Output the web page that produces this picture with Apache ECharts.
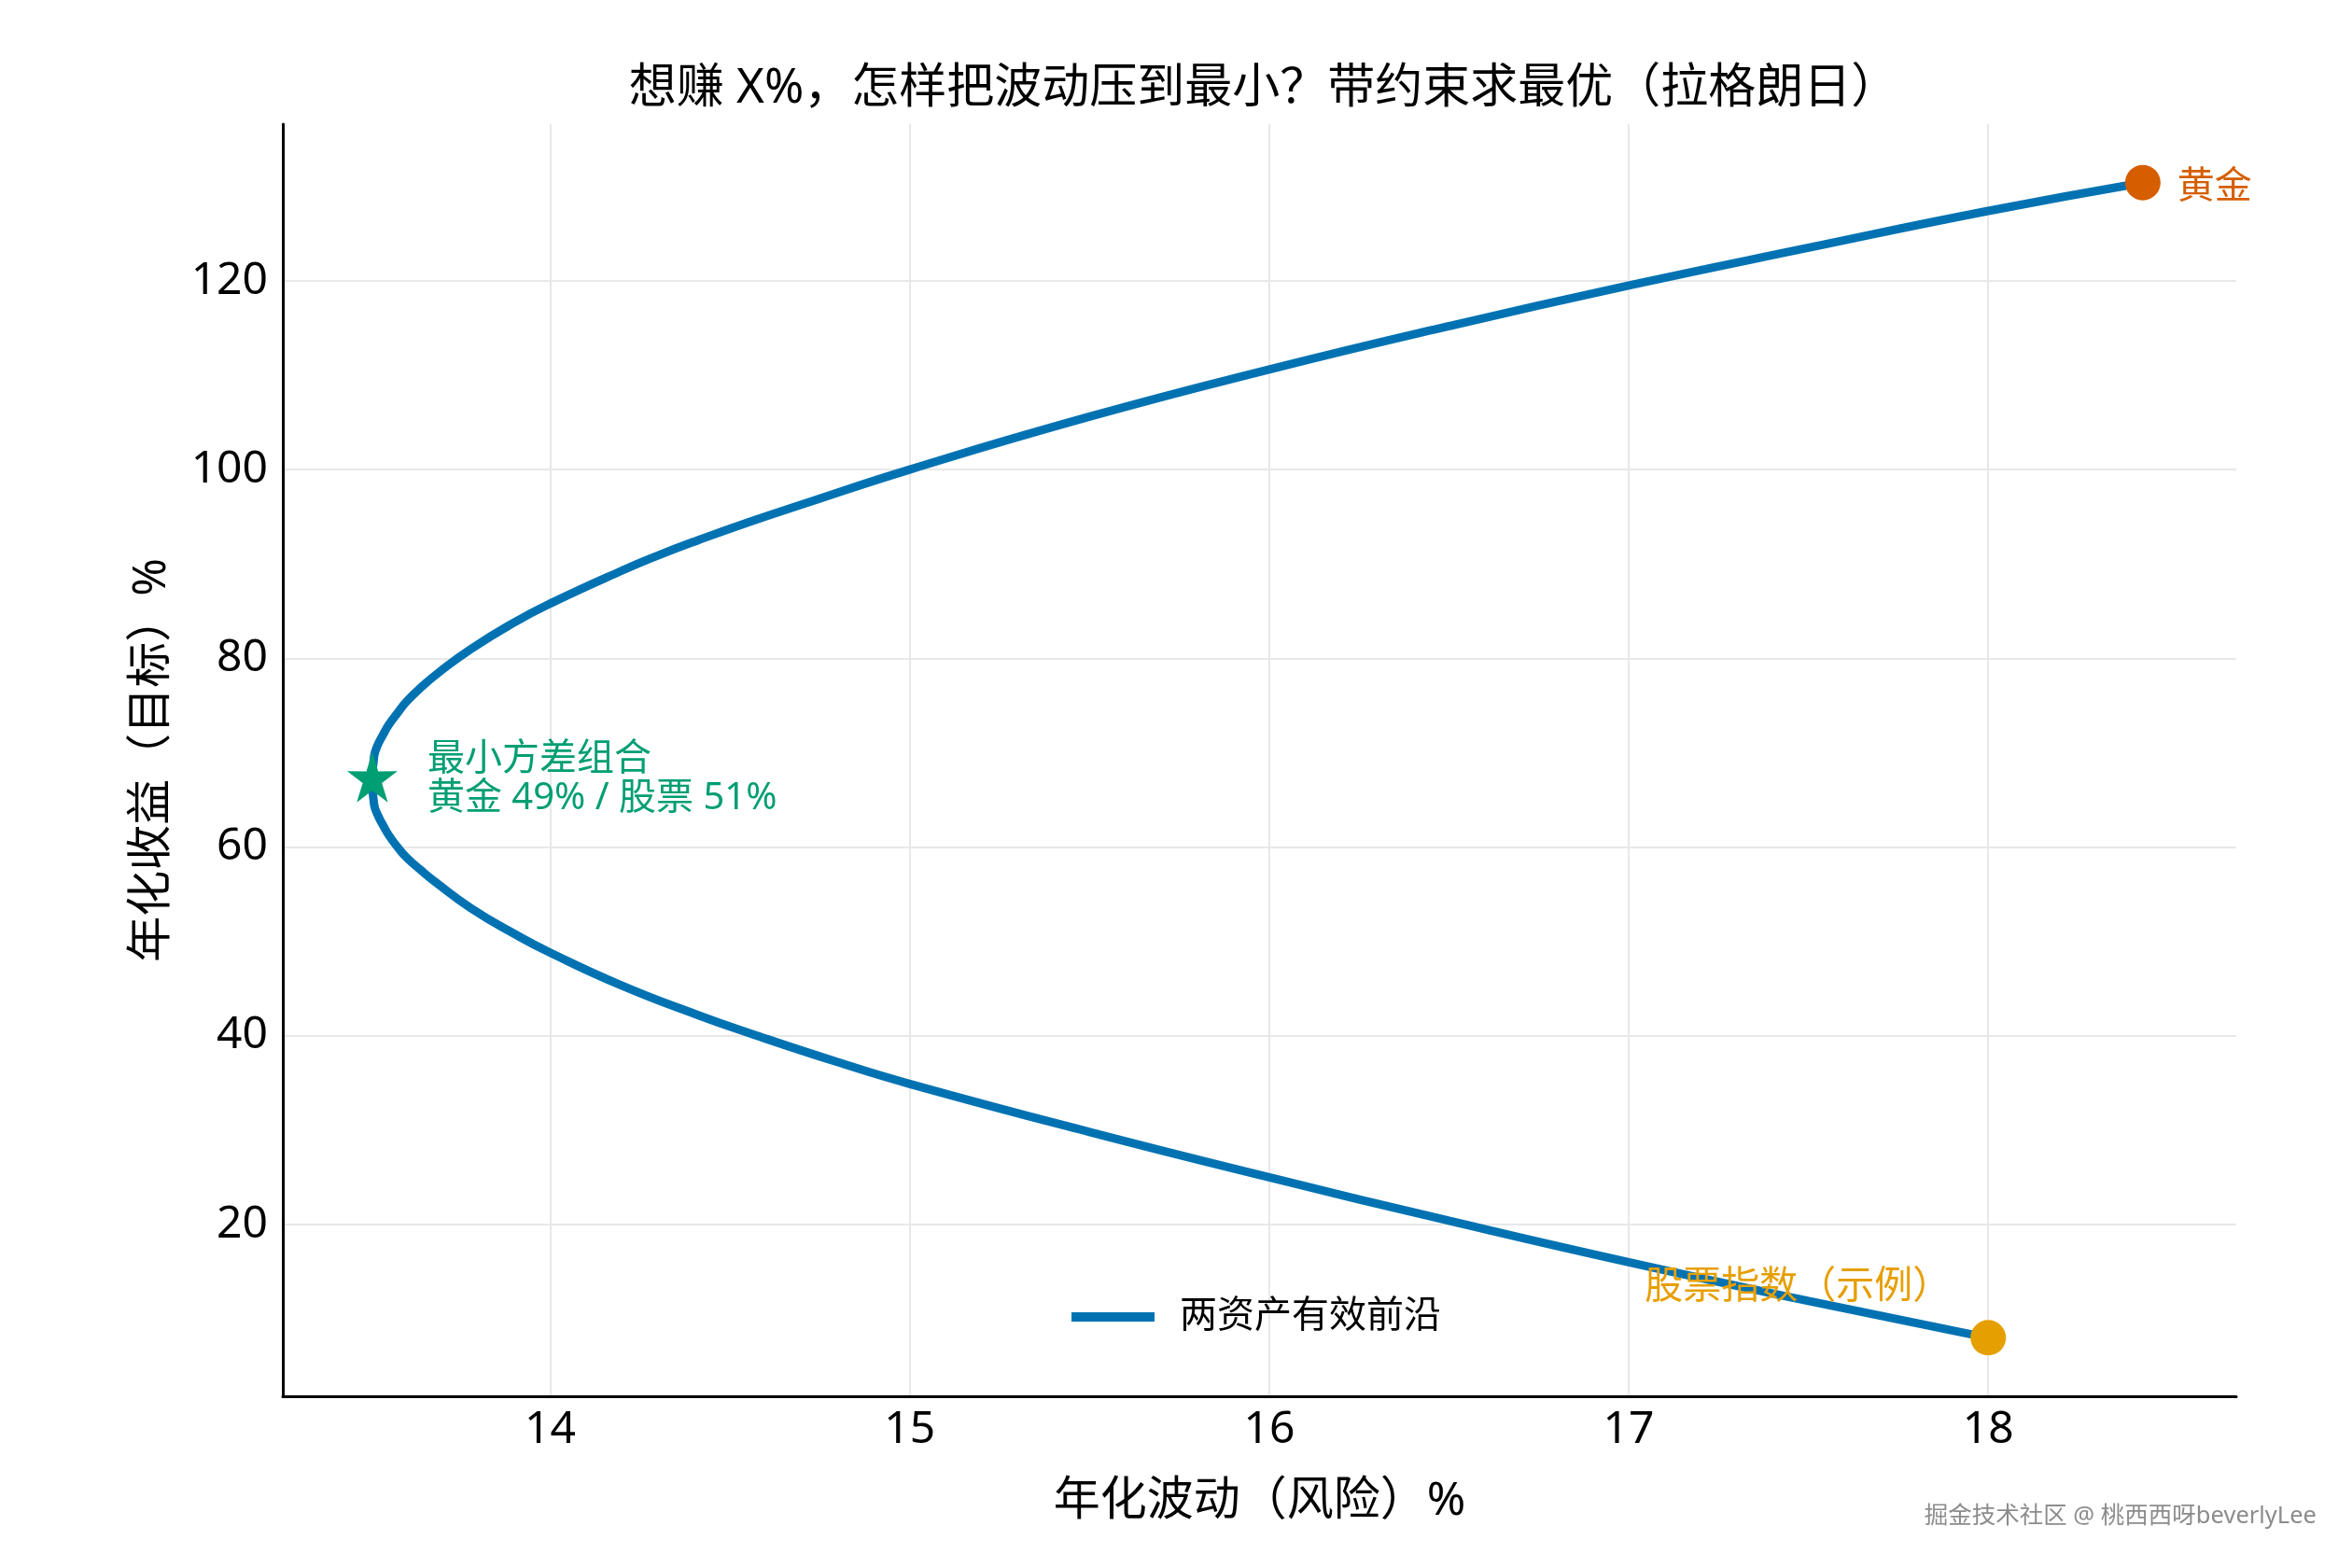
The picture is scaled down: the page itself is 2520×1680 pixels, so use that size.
<!DOCTYPE html>
<html>
<head>
<meta charset="utf-8">
<title>两资产有效前沿</title>
<script src="https://cdn.jsdelivr.net/npm/echarts@6/dist/echarts.min.js"></script>
<style>
  html, body { margin: 0; padding: 0; background: #fff; }
  #chart { width: 2520px; height: 1680px; }
</style>
</head>
<body>
<div id="chart"></div>
<script>
// 有效前沿：从黄金(w=1) 走到股票(w=0)，数值读自原图
const frontierRisk = [18.43, 18.0, 17.5, 17.0, 16.5, 16.0, 15.5, 15.0, 14.7, 14.55, 14.41, 14.3, 14.2, 14.0, 13.9, 13.78, 13.69, 13.64, 13.6, 13.575, 13.55, 13.535, 13.52, 13.51, 13.505, 13.51, 13.52, 13.535, 13.55, 13.575, 13.6, 13.64, 13.68, 13.78, 13.9, 14.0, 14.2, 14.41, 14.56, 14.8, 15.0, 15.5, 16.0, 16.5, 17.0, 17.5, 18.0];
const frontierReturn = [130.4, 127.4, 123.5, 119.5, 115.2, 110.6, 105.6, 100.0, 96.3, 94.4, 92.5, 90.9, 89.3, 85.8, 83.8, 81.0, 78.5, 76.9, 75.4, 74.2, 72.9, 71.9, 70.8, 69.6, 67.0, 64.5, 63.4, 62.3, 61.3, 60.0, 58.9, 57.55, 56.3, 53.5, 50.8, 48.8, 45.3, 42.2, 40.2, 37.2, 34.9, 29.8, 25.0, 20.4, 16.0, 11.9, 8.0];

const goldPoint = [18.43, 130.4];
const stockPoint = [18.0, 8.0];
const minVarPoint = [13.505, 67.0];
const minVarWeights = [49, 51]; // 黄金 / 股票 %

const xRange = [13.256, 18.69];
const yRange = [1.8, 136.6];

const FONT = '"Noto Sans", "Noto Sans CJK SC", sans-serif';
const BLUE = '#0072B2';
const GOLD = '#D55E00';
const STOCK = '#E69F00';
const GREEN = '#009E73';
const GRID = '#e8e8e8';

// 五角星（matplotlib 的 * 记号）
const STAR = 'path://M50,0L61.17,34.63L97.55,34.55L68.07,55.87L79.39,90.45L50,69L20.61,90.45L31.93,55.87L2.45,34.55L38.83,34.63Z';

const myChart = echarts.init(document.getElementById('chart'));

const frontier = frontierRisk.map(function(r, i) {
	return [r, frontierReturn[i]];
});

myChart.setOption({
	animation: false,
	backgroundColor: '#fff',
	textStyle: { fontFamily: FONT },
	title: {
		text: '想赚 X%，怎样把波动压到最小？带约束求最优（拉格朗日）',
		left: 1349,
		top: 65,
		textAlign: 'center',
		textStyle: {
			fontFamily: FONT,
			fontSize: 51,
			fontWeight: 'normal',
			color: '#000'
		}
	},
	grid: {
		left: 303,
		right: 124,
		top: 133,
		bottom: 184
	},
	legend: {
		data: ['两资产有效前沿'],
		left: 1143,
		top: 1386,
		icon: 'rect',
		itemWidth: 89,
		itemHeight: 10,
		textStyle: {
			fontFamily: FONT,
			fontSize: 40,
			color: '#000',
			padding: [0, 0, 0, 22]
		}
	},
	xAxis: {
		type: 'value',
		min: xRange[0],
		max: xRange[1],
		minInterval: 1,
		maxInterval: 1,
		name: '年化波动（风险）%',
		nameLocation: 'middle',
		nameGap: 88,
		nameTextStyle: { fontFamily: FONT, fontSize: 50, color: '#000' },
		axisLine: { onZero: false, lineStyle: { color: '#000', width: 3 } },
		axisTick: { show: false },
		axisLabel: {
			fontFamily: FONT,
			fontSize: 48,
			color: '#000',
			margin: 12,
			showMinLabel: false,
			showMaxLabel: false,
			formatter: function(v) {
				return Number.isInteger(v) ? String(v) : '';
			}
		},
		splitLine: {
			show: true,
			showMinLine: false,
			showMaxLine: false,
			lineStyle: { color: GRID, width: 2 }
		}
	},
	yAxis: {
		type: 'value',
		min: yRange[0],
		max: yRange[1],
		minInterval: 20,
		maxInterval: 20,
		name: '年化收益（目标）%',
		nameLocation: 'middle',
		nameGap: 115,
		nameTextStyle: { fontFamily: FONT, fontSize: 49, color: '#000' },
		axisLine: { show: true, lineStyle: { color: '#000', width: 3 } },
		axisTick: { show: false },
		axisLabel: {
			fontFamily: FONT,
			fontSize: 48,
			color: '#000',
			margin: 16,
			showMinLabel: false,
			showMaxLabel: false,
			formatter: function(v) {
				return v % 20 === 0 ? String(v) : '';
			}
		},
		splitLine: {
			show: true,
			showMinLine: false,
			showMaxLine: false,
			lineStyle: { color: GRID, width: 2 }
		}
	},
	series: [
		{
			name: '两资产有效前沿',
			type: 'line',
			data: frontier,
			smooth: 0.5,
			symbol: 'none',
			showSymbol: false,
			lineStyle: { color: BLUE, width: 9 },
			itemStyle: { color: BLUE },
			z: 2
		},
		{
			name: '黄金',
			type: 'scatter',
			data: [goldPoint],
			symbol: 'circle',
			symbolSize: 38,
			itemStyle: { color: GOLD, opacity: 1 },
			label: {
				show: true,
				formatter: '黄金',
				position: 'right',
				distance: 18,
				offset: [0, 5],
				fontFamily: FONT,
				fontSize: 40,
				color: GOLD
			},
			silent: true,
			z: 4
		},
		{
			name: '股票指数',
			type: 'scatter',
			data: [stockPoint],
			symbol: 'circle',
			symbolSize: 38,
			itemStyle: { color: STOCK, opacity: 1 },
			label: {
				show: true,
				formatter: '股票指数（示例）',
				position: [-349, -35],
				align: 'left',
				verticalAlign: 'middle',
				fontFamily: FONT,
				fontSize: 41,
				color: STOCK
			},
			silent: true,
			z: 4
		},
		{
			name: '最小方差组合',
			type: 'scatter',
			data: [minVarPoint],
			symbol: STAR,
			symbolSize: 54,
			symbolOffset: [0, -4],
			itemStyle: { color: GREEN, opacity: 1 },
			label: {
				show: true,
				formatter: '最小方差组合\n黄金 ' + minVarWeights[0] + '% / 股票 ' + minVarWeights[1] + '%',
				position: 'right',
				distance: 32,
				align: 'left',
				verticalAlign: 'middle',
				lineHeight: 42,
				offset: [0, 2],
				fontFamily: FONT,
				fontSize: 40,
				color: GREEN
			},
			silent: true,
			z: 5
		}
	],
	graphic: [
		{
			type: 'text',
			right: 38,
			top: 1612,
			style: {
				text: '掘金技术社区 @ 桃西西呀beverlyLee',
				font: '25.5px ' + FONT,
				fill: '#8c8c8c'
			}
		}
	]
});
</script>
</body>
</html>
